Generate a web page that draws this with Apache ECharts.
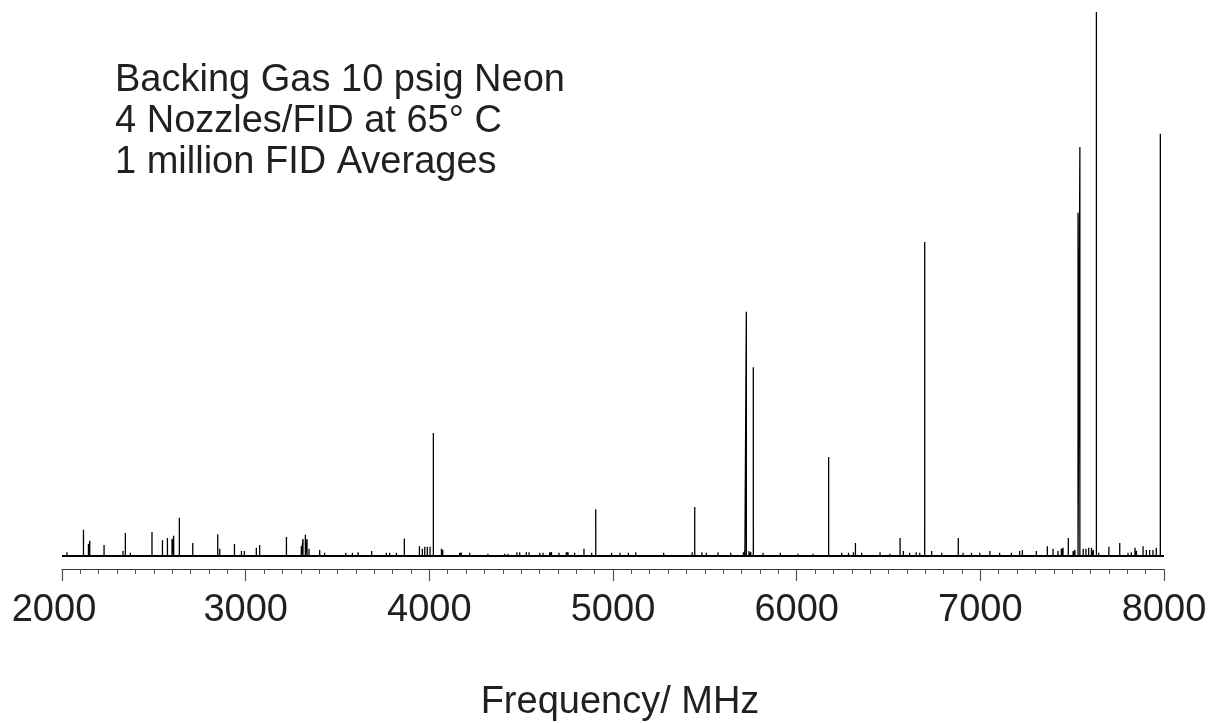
<!DOCTYPE html>
<html>
<head>
<meta charset="utf-8">
<script src="https://cdn.jsdelivr.net/npm/echarts@6/dist/echarts.min.js"></script>
<style>html,body{margin:0;padding:0;background:#fff}#c{width:1214px;height:723px}</style>
</head>
<body>
<div id="c"></div>
<script>
// Frequencies (MHz) of observed transitions
const peakFreq = [2027,2117,2144,2151,2229,2332,2345,2372,2490,2547,2574,2599,2608,2639,2712,2848,2859,2939,2977,2993,
  3058,3076,3222,3303,3312,3325,3334,3345,3403,3430,3545,3581,3612,3686,3766,3784,3821,3864,3946,3962,3975,3989,4004,4022,
  4066,4073,4165,4174,4220,4319,4410,4428,4477,4492,4528,4543,4601,4619,4655,4665,4706,4746,4755,4791,4842,4884,4906,
  4992,5038,5084,5124,5276,5431,5445,5484,5508,5572,5641,5710,5718,5726,5740,5750,5764,5817,5911,6007,6089,6174,
  6245,6282,6309,6320,6354,6454,6508,6563,6581,6615,6651,6670,6697,6735,6790,6880,6906,6952,6997,7052,7105,7169,7214,
  7229,7305,7365,7396,7423,7441,7450,7479,7505,7515,7532,7542,7560,7575,7590,7605,7615,7632,7645,7700,7759,7804,7822,
  7842,7850,7886,7904,7922,7940,7958,7980];
// Relative intensities (tallest line = 100)
const peakIntensity = [0.7,4.8,2.2,2.8,2.0,0.9,4.2,0.6,4.4,2.9,3.3,3.1,3.7,7.0,2.4,4.0,1.3,2.2,0.9,0.9,
  1.5,2.0,3.5,1.8,3.1,3.9,3.1,1.3,1.1,0.6,0.6,0.6,0.7,0.9,0.6,0.6,0.6,3.2,1.8,1.3,1.7,1.7,1.7,22.6,
  1.3,1.1,0.6,0.6,0.6,0.4,0.4,0.4,0.7,0.7,0.7,0.7,0.6,0.6,0.7,0.7,0.6,0.7,0.7,0.6,1.3,0.6,8.6,
  0.6,0.6,0.6,0.7,0.6,0.7,9.0,0.7,0.6,0.7,0.6,0.7,0.9,44.9,0.9,0.7,34.7,0.6,0.6,0.4,0.4,18.2,
  0.6,0.6,0.7,2.4,0.6,0.7,0.4,3.3,0.9,0.6,0.7,0.6,57.7,0.9,0.6,3.3,0.6,0.6,0.6,0.9,0.6,0.6,0.9,
  1.1,0.9,1.8,1.3,0.9,1.3,1.5,3.3,0.9,1.1,63.1,75.2,1.3,1.3,1.5,1.5,1.1,100,0.6,1.7,2.4,0.6,0.7,
  1.5,0.9,1.8,1.1,1.1,1.1,1.5,77.6];
const freqRange = [2000, 8000];
const tickInterval = 1000;
const annotationLines = ['Backing Gas 10 psig Neon', '4 Nozzles/FID at 65\u00B0 C', '1 million FID Averages'];
const xAxisTitle = 'Frequency/ MHz';

// stick spectrum: baseline -> peak -> baseline
const stickData = [[freqRange[0], 0]];
peakFreq.forEach((f, i) => {
  stickData.push([f, 0], [f, peakIntensity[i]], [f, 0]);
});
stickData.push([freqRange[1], 0]);

const FONT = '"Liberation Sans", Arial, sans-serif';
const labelStyle = { fontFamily: FONT, fontSize: 38, color: '#231f20' };
const chart = echarts.init(document.getElementById('c'));
chart.setOption({
  animation: false,
  backgroundColor: '#ffffff',
  grid: { left: 62, right: 50, top: 12, bottom: 154, containLabel: false, outerBoundsMode: 'none' },
  xAxis: {
    type: 'value',
    min: freqRange[0], max: freqRange[1], interval: tickInterval,
    name: xAxisTitle, nameLocation: 'middle', nameGap: 115,
    nameTextStyle: { fontFamily: FONT, fontSize: 38, color: '#231f20', padding: [0, 0, 0, 14] },
    axisLine: { show: true, onZero: false, lineStyle: { color: '#333', width: 1.2 } },
    axisTick: { show: true, length: 12, lineStyle: { color: '#555', width: 1.2 } },
    minorTick: { show: true, splitNumber: 10, length: 5, lineStyle: { color: '#555', width: 1 } },
    axisLabel: Object.assign({}, labelStyle, { margin: 23,
      formatter: v => v === freqRange[0] ? '{first|' + v + '}' : String(v),
      rich: { first: Object.assign({}, labelStyle, { padding: [0, 16, 0, 0] }) } }),
    splitLine: { show: false }
  },
  yAxis: { type: 'value', min: -2.4, max: 100, show: false, splitLine: { show: false } },
  graphic: [{
    type: 'text', left: 115, top: 60,
    style: { text: annotationLines.join('\n'), fontFamily: FONT, fontSize: 38, lineHeight: 41, fill: '#231f20' }
  }],
  series: [
    { type: 'line', data: [[freqRange[0], 0], [freqRange[1], 0]], showSymbol: false, silent: true,
      lineStyle: { color: '#000', width: 2 } },
    { type: 'line', data: stickData, showSymbol: false, silent: true,
      lineStyle: { color: '#000', width: 1.3 } }
  ]
});
</script>
</body>
</html>
